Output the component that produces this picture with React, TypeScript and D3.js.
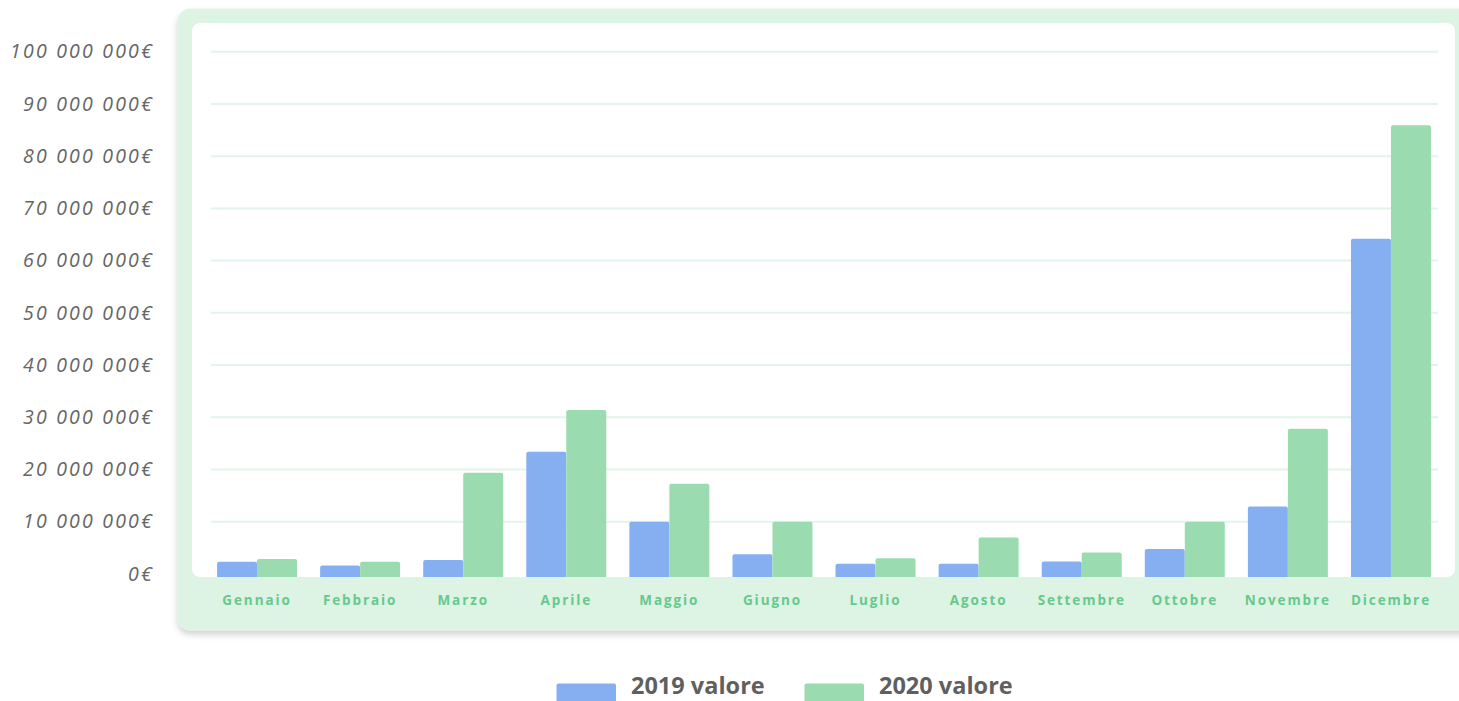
import React from "react";
import * as d3 from "d3";

const months = ["Gennaio","Febbraio","Marzo","Aprile","Maggio","Giugno","Luglio","Agosto","Settembre","Ottobre","Novembre","Dicembre"];
const values2019 = [2.35e6, 1.65e6, 2.7e6, 23.4e6, 10.0e6, 3.8e6, 1.95e6, 1.95e6, 2.4e6, 4.8e6, 12.9e6, 64.2e6];
const values2020 = [2.85e6, 2.35e6, 19.4e6, 31.4e6, 17.3e6, 10.0e6, 3.0e6, 7.0e6, 4.1e6, 10.0e6, 27.8e6, 85.9e6];
const yTicks = [0, 10e6, 20e6, 30e6, 40e6, 50e6, 60e6, 70e6, 80e6, 90e6, 100e6];
const seriesNames = ["2019 valore", "2020 valore"];
const colors = ["#86aff2", "#9adcb0"];

const W = 1459, H = 701;

function fmt(v: number) {
  if (v === 0) return "0€";
  const s = String(Math.round(v));
  return s.replace(/\B(?=(\d{3})+(?!\d))/g, " ") + "€";
}

function topRounded(x: number, y: number, w: number, h: number, r: number) {
  const rr = Math.min(r, h / 2, w / 2);
  return `M${x},${y + h}V${y + rr}Q${x},${y} ${x + rr},${y}H${x + w - rr}Q${x + w},${y} ${x + w},${y + rr}V${y + h}Z`;
}

export default function App() {
  const y = d3.scaleLinear().domain([0, 100e6]).range([574, 51.7]);
  const x0 = d3.scaleBand<string>().domain(months).range([205.5, 1442.5]).paddingInner(0.224).paddingOuter(0.112);
  const x1 = d3.scaleBand<number>().domain([0, 1]).range([0, x0.bandwidth()]);
  const barBottom = 577;

  return (
    <svg width={W} height={H} style={{ position: "absolute", left: 0, top: 0, display: "block", background: "#fff" }}>
      <defs>
        <filter id="sh" x="-5%" y="-5%" width="110%" height="120%">
          <feDropShadow dx="0" dy="4" stdDeviation="3" floodColor="#000" floodOpacity="0.18" />
        </filter>
        <clipPath id="inner">
          <rect x={192} y={23} width={1263} height={554} rx={8} />
        </clipPath>
      </defs>
      <rect x={177.5} y={8.5} width={1300} height={622} rx={13} fill="#ddf3e3" filter="url(#sh)" />
      <rect x={192} y={23} width={1263} height={554} rx={8} fill="#ffffff" />
      <g>
        {yTicks.filter(t => t > 0).map(t => (
          <line key={t} x1={211} x2={1438} y1={y(t)} y2={y(t)} stroke="#e2f5e8" strokeWidth={2} />
        ))}
      </g>
      <g>
        {yTicks.map(t => (
          <text key={t} x={154} y={y(t) + 1.5} textAnchor="end" dominantBaseline="middle"
            style={{ fontFamily: "'Open Sans', sans-serif", fontStyle: "italic", fontSize: 19.5, letterSpacing: 2.2, fill: "#666" }}>
            {fmt(t)}
          </text>
        ))}
      </g>
      <g clipPath="url(#inner)">
        {months.map((m, i) => (
          <g key={m} transform={`translate(${x0(m)},0)`}>
            {[values2019[i], values2020[i]].map((v, s) => {
              const top = y(v);
              return <path key={s} d={topRounded(x1(s)!, top, x1.bandwidth(), barBottom - top + 4, 2)} fill={colors[s]} />;
            })}
          </g>
        ))}
      </g>
      <g>
        {months.map(m => (
          <text key={m} x={x0(m)! + x0.bandwidth() / 2} y={601} textAnchor="middle" dominantBaseline="middle"
            style={{ fontFamily: "'Open Sans', sans-serif", fontWeight: 700, fontSize: 13.5, letterSpacing: 1.9, fill: "#66c98d" }}>
            {m}
          </text>
        ))}
      </g>
      <g>
        {seriesNames.map((n, i) => {
          const lx = [556.5, 804.5][i];
          return (
            <g key={n}>
              <rect x={lx} y={683.5} width={59.5} height={20} rx={2} fill={colors[i]} />
              <text x={lx + 74.5} y={694} style={{ fontFamily: "'Open Sans', sans-serif", fontWeight: 700, fontSize: 23.5, fill: "#5f5f5f" }}>
                {n}
              </text>
            </g>
          );
        })}
      </g>
    </svg>
  );
}
